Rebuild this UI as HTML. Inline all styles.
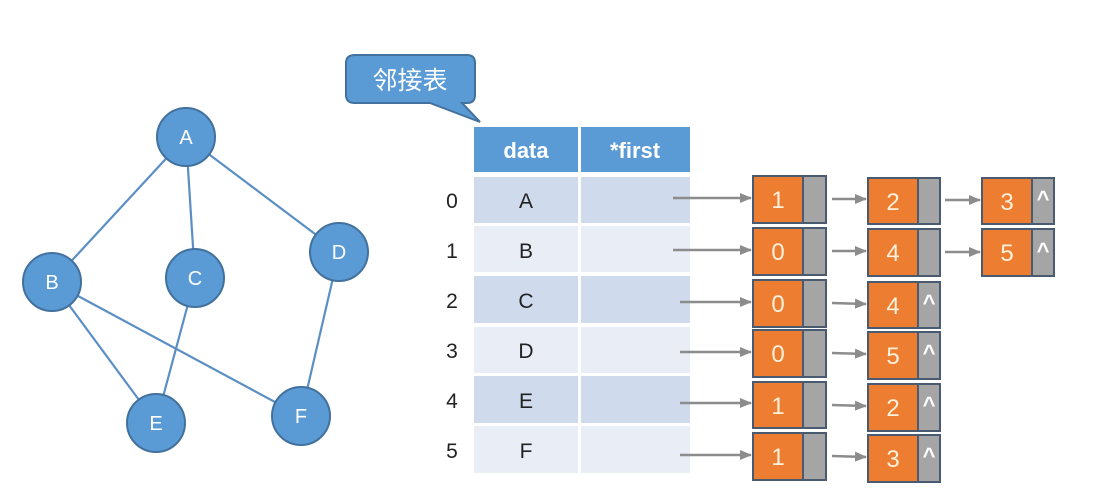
<!DOCTYPE html>
<html><head><meta charset="utf-8"><style>
html,body{margin:0;padding:0;background:#fff;}
svg{display:block;}
text{font-family:"Liberation Sans","Noto Sans CJK SC",sans-serif;}
</style></head><body>
<svg width="1105" height="494" viewBox="0 0 1105 494" xmlns="http://www.w3.org/2000/svg">
<defs>
<marker id="ar" markerWidth="12" markerHeight="12" refX="11" refY="6" orient="auto" markerUnits="userSpaceOnUse">
<path d="M0,1 L12,6 L0,11 z" fill="#8c8c8c"/>
</marker>
</defs>
<g stroke="#5b8fc4" stroke-width="2.2">
<line x1="186" y1="137" x2="52" y2="282"/>
<line x1="186" y1="137" x2="195" y2="278"/>
<line x1="186" y1="137" x2="339" y2="252"/>
<line x1="52" y1="282" x2="156" y2="423"/>
<line x1="52" y1="282" x2="301" y2="416"/>
<line x1="195" y1="278" x2="156" y2="423"/>
<line x1="339" y1="252" x2="301" y2="416"/>
</g>
<g fill="#5b9bd5" stroke="#41719c" stroke-width="2">
<circle cx="186" cy="137" r="29"/>
<circle cx="52" cy="282" r="29"/>
<circle cx="195" cy="278" r="29"/>
<circle cx="339" cy="252" r="29"/>
<circle cx="156" cy="423" r="29"/>
<circle cx="301" cy="416" r="29"/>
</g>
<g fill="#fff" font-size="20" text-anchor="middle">
<text x="186" y="144">A</text>
<text x="52" y="289">B</text>
<text x="195" y="285">C</text>
<text x="339" y="259">D</text>
<text x="156" y="430">E</text>
<text x="301" y="423">F</text>
</g>
<path d="M355,55 H467 Q475,55 475,63 V95 Q475,103 467,103 H462 L480,122 L430,103 H355 Q346,103 346,95 V63 Q346,55 355,55 Z" fill="#5b9bd5" stroke="#41719c" stroke-width="2"/>
<text x="410" y="89" fill="#fff" font-size="25" text-anchor="middle">邻接表</text>
<rect x="474" y="127" width="104" height="45" fill="#5b9bd5"/>
<rect x="581" y="127" width="109" height="45" fill="#5b9bd5"/>
<g fill="#fff" font-size="22" font-weight="bold" text-anchor="middle">
<text x="526" y="158">data</text>
<text x="635" y="158">*first</text>
</g>
<g>
<rect x="474" y="177" width="104" height="46" fill="#cfdaec"/><rect x="581" y="177" width="109" height="46" fill="#cfdaec"/>
<rect x="474" y="226" width="104" height="46" fill="#e9edf6"/><rect x="581" y="226" width="109" height="46" fill="#e9edf6"/>
<rect x="474" y="276" width="104" height="47" fill="#cfdaec"/><rect x="581" y="276" width="109" height="47" fill="#cfdaec"/>
<rect x="474" y="327" width="104" height="46" fill="#e9edf6"/><rect x="581" y="327" width="109" height="46" fill="#e9edf6"/>
<rect x="474" y="376" width="104" height="47" fill="#cfdaec"/><rect x="581" y="376" width="109" height="47" fill="#cfdaec"/>
<rect x="474" y="426" width="104" height="47" fill="#e9edf6"/><rect x="581" y="426" width="109" height="47" fill="#e9edf6"/>
</g>
<g font-size="21" fill="#222" text-anchor="middle">
<text x="526" y="208">A</text><text x="526" y="258">B</text><text x="526" y="308">C</text>
<text x="526" y="358">D</text><text x="526" y="408">E</text><text x="526" y="458">F</text>
<text x="452" y="208">0</text><text x="452" y="258">1</text><text x="452" y="308">2</text>
<text x="452" y="358">3</text><text x="452" y="408">4</text><text x="452" y="458">5</text>
</g>
<g stroke="#8c8c8c" stroke-width="2.5" marker-end="url(#ar)">
<line x1="673" y1="198" x2="751" y2="198"/>
<line x1="673" y1="250" x2="751" y2="250"/>
<line x1="680" y1="302" x2="751" y2="302"/>
<line x1="680" y1="352" x2="751" y2="352"/>
<line x1="680" y1="403" x2="751" y2="403"/>
<line x1="680" y1="455" x2="751" y2="455"/>
<line x1="832" y1="199" x2="866" y2="199"/>
<line x1="832" y1="251" x2="866" y2="251"/>
<line x1="832" y1="303" x2="866" y2="304"/>
<line x1="832" y1="353" x2="866" y2="354"/>
<line x1="832" y1="405" x2="866" y2="406"/>
<line x1="832" y1="456" x2="866" y2="457"/>
<line x1="945" y1="200" x2="980" y2="200"/>
<line x1="945" y1="252" x2="980" y2="252"/>
</g>
<g stroke="#4a5a70" stroke-width="2">
<rect x="753" y="176" width="50" height="47" fill="#ed7d31"/><rect x="803" y="176" width="23" height="47" fill="#a5a5a5"/>
<rect x="753" y="228" width="50" height="47" fill="#ed7d31"/><rect x="803" y="228" width="23" height="47" fill="#a5a5a5"/>
<rect x="753" y="280" width="50" height="47" fill="#ed7d31"/><rect x="803" y="280" width="23" height="47" fill="#a5a5a5"/>
<rect x="753" y="330" width="50" height="47" fill="#ed7d31"/><rect x="803" y="330" width="23" height="47" fill="#a5a5a5"/>
<rect x="753" y="382" width="50" height="46" fill="#ed7d31"/><rect x="803" y="382" width="23" height="46" fill="#a5a5a5"/>
<rect x="753" y="433" width="50" height="47" fill="#ed7d31"/><rect x="803" y="433" width="23" height="47" fill="#a5a5a5"/>
<rect x="868" y="178" width="50" height="46" fill="#ed7d31"/><rect x="918" y="178" width="22" height="46" fill="#a5a5a5"/>
<rect x="868" y="229" width="50" height="47" fill="#ed7d31"/><rect x="918" y="229" width="22" height="47" fill="#a5a5a5"/>
<rect x="868" y="282" width="50" height="46" fill="#ed7d31"/><rect x="918" y="282" width="22" height="46" fill="#a5a5a5"/>
<rect x="868" y="332" width="50" height="47" fill="#ed7d31"/><rect x="918" y="332" width="22" height="47" fill="#a5a5a5"/>
<rect x="868" y="384" width="50" height="47" fill="#ed7d31"/><rect x="918" y="384" width="22" height="47" fill="#a5a5a5"/>
<rect x="868" y="435" width="50" height="47" fill="#ed7d31"/><rect x="918" y="435" width="22" height="47" fill="#a5a5a5"/>
<rect x="982" y="178" width="50" height="46" fill="#ed7d31"/><rect x="1032" y="178" width="22" height="46" fill="#a5a5a5"/>
<rect x="982" y="229" width="50" height="47" fill="#ed7d31"/><rect x="1032" y="229" width="22" height="47" fill="#a5a5a5"/>
</g>
<g fill="#fdf1dc" font-size="24" text-anchor="middle">
<text x="778" y="208">1</text><text x="778" y="260">0</text><text x="778" y="312">0</text>
<text x="778" y="362">0</text><text x="778" y="414">1</text><text x="778" y="465">1</text>
<text x="893" y="210">2</text><text x="893" y="261">4</text><text x="893" y="314">4</text>
<text x="893" y="364">5</text><text x="893" y="416">2</text><text x="893" y="467">3</text>
<text x="1007" y="210">3</text><text x="1007" y="261">5</text>
</g>
<g fill="#fff" font-size="22" font-weight="bold" text-anchor="middle">
<text x="929" y="310">^</text><text x="929" y="360">^</text><text x="929" y="412">^</text><text x="929" y="463">^</text>
<text x="1043" y="206">^</text><text x="1043" y="258">^</text>
</g>
</svg>
</body></html>
